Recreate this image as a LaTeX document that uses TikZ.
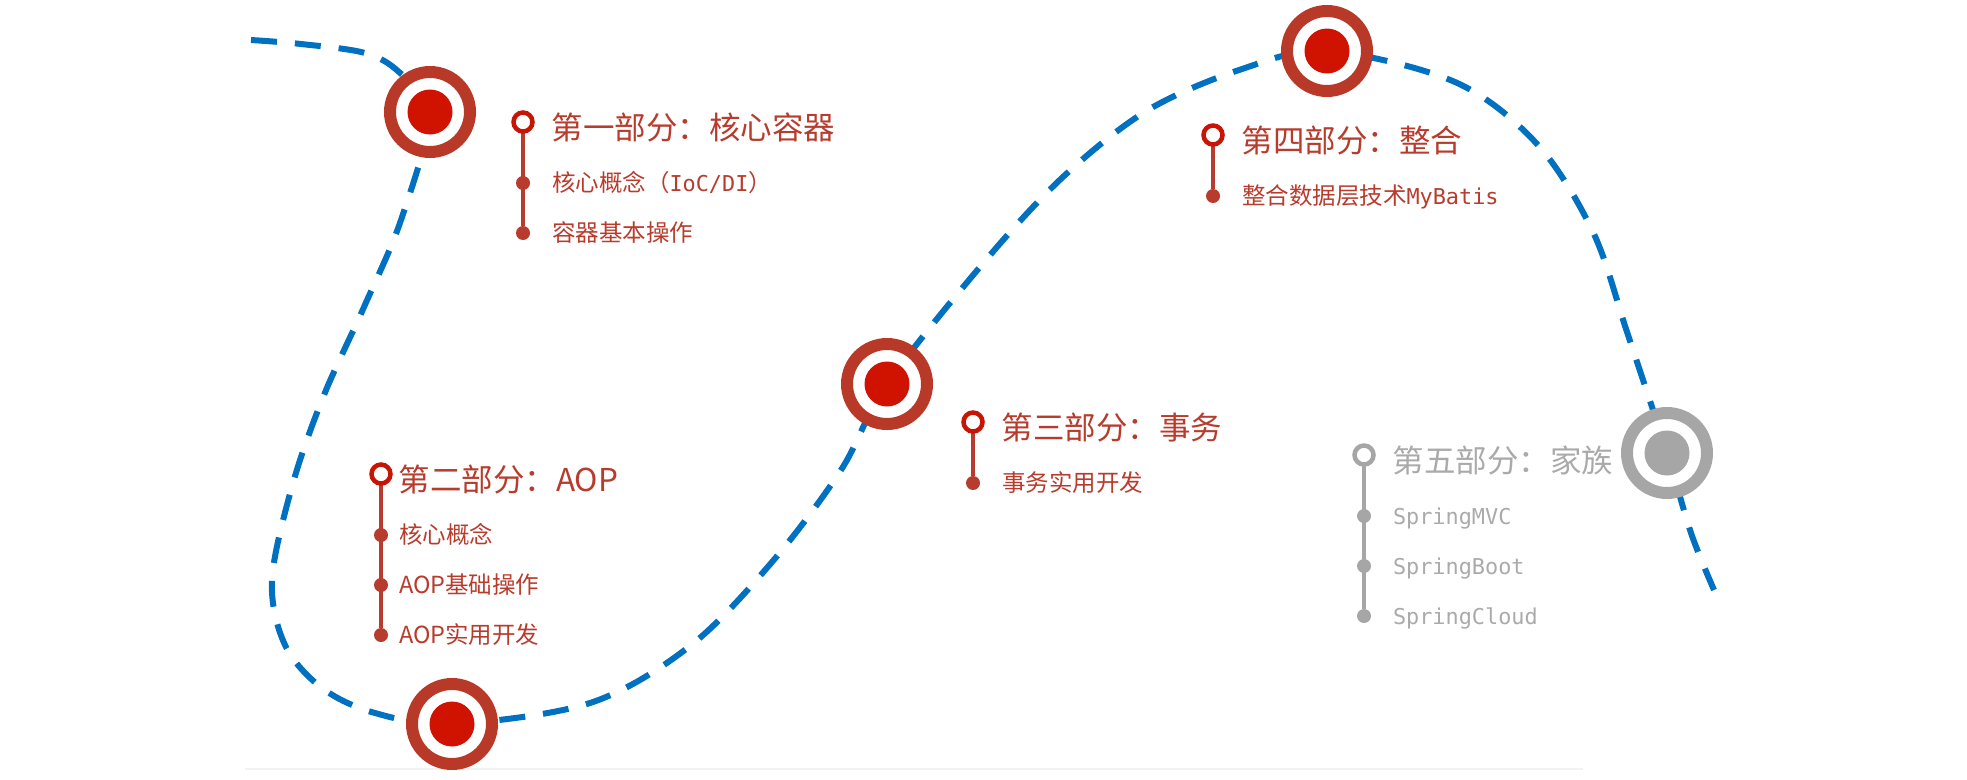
\documentclass[tikz,border=0pt]{standalone}
\usepackage{fontspec}
\setmainfont{Noto Sans CJK SC}
\setmonofont[Scale=0.93]{DejaVu Sans Mono}
\usepackage{tikz}
\usetikzlibrary{positioning, backgrounds}
\definecolor{pathblue}{RGB}{0,112,192}
\definecolor{ringred}{RGB}{184,57,40}
\definecolor{dotred}{RGB}{208,18,0}
\definecolor{textred}{RGB}{184,60,45}
\definecolor{iconred}{RGB}{200,20,5}
\definecolor{familygray}{RGB}{166,166,166}
\definecolor{familytext}{RGB}{170,170,170}

\begin{document}
\begin{tikzpicture}[
    x=1pt, y=-1pt,
    every node/.style={inner sep=0pt, outer sep=0pt},
    milestone/.style={circle, draw=#1, line width=12pt, fill=white, minimum size=80pt},
    core/.style={circle, fill=#1, minimum size=45pt},
    headring/.style={circle, draw=#1, line width=4.5pt, fill=white, minimum size=19pt},
    itemdot/.style={circle, fill=#1, minimum size=14pt},
    stem/.style={draw=#1, line width=3.5pt},
    heading/.style={text=#1, font=\fontsize{31.5pt}{31.5pt}\selectfont, text height=23.6pt, text depth=0pt},
    item/.style={text=#1, font=\fontsize{23.5pt}{23.5pt}\selectfont, text height=17.4pt, text depth=0pt},
    route/.style={pathblue, line width=6pt, dash pattern=on 26pt off 18pt}
]
\useasboundingbox (0,0) rectangle (1967,779);

% milestones on the route
\node[milestone=ringred] (m1) at (430,112) {};
\node[core=dotred] (m1c) at (m1) {};
\node[milestone=ringred] (m2) at (452,724) {};
\node[core=dotred] (m2c) at (m2) {};
\node[milestone=ringred] (m3) at (887,384) {};
\node[core=dotred] (m3c) at (m3) {};
\node[milestone=ringred] (m4) at (1327,51) {};
\node[core=dotred] (m4c) at (m4) {};
\node[milestone=familygray] (m5) at (1667,453) {};
\node[core=familygray] (m5c) at (m5) {};

% part 1
\node[headring=iconred] (h1) at (523,122) {};
\node[heading=textred, right=19pt of h1, yshift=-6pt] (h1t) {第一部分：核心容器};
\node[itemdot=textred, on grid, below=61pt of h1] (h1a) {};
\node[itemdot=textred, on grid, below=50pt of h1a] (h1b) {};
\node[item=textred, right=22pt of h1a] (h1at) {核心概念（\texttt{IoC/DI}）};
\node[item=textred, right=22pt of h1b] (h1bt) {容器基本操作};

% part 2
\node[headring=iconred] (h2) at (381,474) {};
\node[heading=textred, right=8pt of h2, yshift=-6pt] (h2t) {第二部分：AOP};
\node[itemdot=textred, on grid, below=61pt of h2] (h2a) {};
\node[itemdot=textred, on grid, below=50pt of h2a] (h2b) {};
\node[itemdot=textred, on grid, below=50pt of h2b] (h2c) {};
\node[item=textred, right=11pt of h2a] (h2at) {核心概念};
\node[item=textred, right=11pt of h2b] (h2bt) {AOP基础操作};
\node[item=textred, right=11pt of h2c] (h2ct) {AOP实用开发};

% part 3
\node[headring=iconred] (h3) at (973,422) {};
\node[heading=textred, right=19pt of h3, yshift=-6pt] (h3t) {第三部分：事务};
\node[itemdot=textred, on grid, below=61pt of h3] (h3a) {};
\node[item=textred, right=22pt of h3a] (h3at) {事务实用开发};

% part 4
\node[headring=iconred] (h4) at (1213,135) {};
\node[heading=textred, right=19pt of h4, yshift=-6pt] (h4t) {第四部分：整合};
\node[itemdot=textred, on grid, below=61pt of h4] (h4a) {};
\node[item=textred, right=22pt of h4a] (h4at) {整合数据层技术\texttt{MyBatis}};

% part 5
\node[headring=familygray] (h5) at (1364,455) {};
\node[heading=familytext, right=19pt of h5, yshift=-6pt] (h5t) {第五部分：家族};
\node[itemdot=familygray, on grid, below=61pt of h5] (h5a) {};
\node[itemdot=familygray, on grid, below=50pt of h5a] (h5b) {};
\node[itemdot=familygray, on grid, below=50pt of h5b] (h5c) {};
\node[item=familytext, right=22pt of h5a] (h5at) {\texttt{SpringMVC}};
\node[item=familytext, right=22pt of h5b] (h5bt) {\texttt{SpringBoot}};
\node[item=familytext, right=22pt of h5c] (h5ct) {\texttt{SpringCloud}};

\begin{scope}[on background layer]
\draw[route] plot[smooth, tension=0.55] coordinates {
    (251,40) (301,44) (365,53) (399,72) (m1.center) (401,220) (364,307)
    (324,395) (293,483) (272,580) (285,645) (322,688) (375,713) (m2.center)
    (590,703) (690,646) (772,562) (841,470) (m3.center) (985,261) (1064,176)
    (1148,110) (1242,69) (m4.center) (1455,82) (1537,144) (1593,232)
    (1627,332) (m5.center) (1691,533) (1714,590)};
\draw[stem=textred] (h1) -- (h1b);
\draw[stem=textred] (h2) -- (h2c);
\draw[stem=textred] (h3) -- (h3a);
\draw[stem=textred] (h4) -- (h4a);
\draw[stem=familygray] (h5) -- (h5c);
\draw[black!5, line width=2pt] (245,769) -- (1583,769);
\end{scope}

\end{tikzpicture}
\end{document}
